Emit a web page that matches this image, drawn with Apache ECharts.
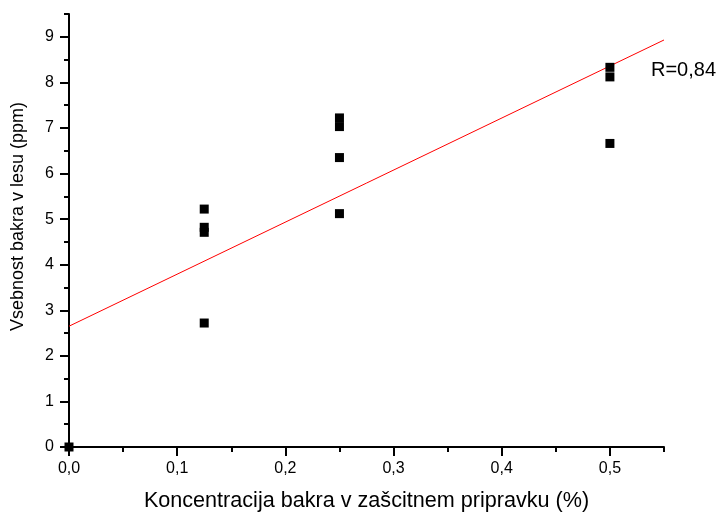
<!DOCTYPE html>
<html>
<head>
<meta charset="utf-8">
<script src="https://cdn.jsdelivr.net/npm/echarts@6/dist/echarts.min.js"></script>
<style>
  html, body { margin: 0; padding: 0; background: #fff; }
  #chart { width: 720px; height: 517px; }
</style>
</head>
<body>
<div id="chart"></div>
<script>
// Copper content measured in wood vs. copper concentration of the protective agent
const concentration = [0, 0.125, 0.125, 0.125, 0.125, 0.25, 0.25, 0.25, 0.25, 0.5, 0.5, 0.5];
const copperContent = [0, 5.22, 4.82, 4.71, 2.72, 7.22, 7.03, 6.35, 5.12, 8.33, 8.12, 6.66];

// Linear fit drawn across the axis range
const fitX = [0, 0.55];
const fitY = [2.65, 8.93];
const fitLabel = 'R=0,84';

// Axis ticks
const xMajorTicks = [0, 0.1, 0.2, 0.3, 0.4, 0.5];
const xMinorTicks = [0.05, 0.15, 0.25, 0.35, 0.45, 0.55];
const yMajorTicks = [0, 1, 2, 3, 4, 5, 6, 7, 8, 9];
const yMinorTicks = [0.5, 1.5, 2.5, 3.5, 4.5, 5.5, 6.5, 7.5, 8.5, 9.5];

const xTitle = 'Koncentracija bakra v zašcitnem pripravku (%)';
const yTitle = 'Vsebnost bakra v lesu (ppm)';

const font = 'Liberation Sans, Arial, sans-serif';
const ink = '#000';

const points = concentration.map((x, i) => [x, copperContent[i]]);
const fitLine = fitX.map((x, i) => [x, fitY[i]]);

const chart = echarts.init(document.getElementById('chart'), null, { renderer: 'canvas' });

const axisLine = { show: true, onZero: false, lineStyle: { color: ink, width: 2 } };

chart.setOption({
  animation: false,
  backgroundColor: '#fff',
  grid: { left: 69, width: 595, top: 14, height: 437, containLabel: false },
  xAxis: [
    {
      type: 'value', min: 0, max: 0.55,
      axisLine: axisLine, splitLine: { show: false },
      name: xTitle, nameLocation: 'middle', nameGap: 43,
      nameTextStyle: { color: ink, fontFamily: font, fontSize: 21.6 },
      axisTick: { show: true, inside: false, length: 9, customValues: xMajorTicks,
        lineStyle: { color: ink, width: 2 } },
      axisLabel: { show: true, customValues: xMajorTicks, margin: 14,
        color: ink, fontFamily: font, fontSize: 16,
        formatter: v => v.toFixed(1).replace('.', ',') }
    },
    {
      type: 'value', min: 0, max: 0.55, position: 'bottom',
      axisLine: { show: false }, splitLine: { show: false },
      axisLabel: { show: false },
      axisTick: { show: true, length: 5, customValues: xMinorTicks,
        lineStyle: { color: ink, width: 2 } }
    }
  ],
  yAxis: [
    {
      type: 'value', min: 0, max: 9.5,
      axisLine: axisLine, splitLine: { show: false },
      name: yTitle, nameLocation: 'middle', nameGap: 42, nameRotate: 90,
      nameTextStyle: { color: ink, fontFamily: font, fontSize: 18, padding: [0, 0, 0, 28] },
      axisTick: { show: true, inside: false, length: 9, customValues: yMajorTicks,
        lineStyle: { color: ink, width: 2 } },
      axisLabel: { show: true, customValues: yMajorTicks, margin: 15,
        color: ink, fontFamily: font, fontSize: 16 }
    },
    {
      type: 'value', min: 0, max: 9.5, position: 'left',
      axisLine: { show: false }, splitLine: { show: false },
      axisLabel: { show: false },
      axisTick: { show: true, length: 5, customValues: yMinorTicks,
        lineStyle: { color: ink, width: 2 } }
    }
  ],
  series: [
    {
      type: 'line',
      data: fitLine,
      xAxisIndex: 0, yAxisIndex: 0,
      showSymbol: false, symbol: 'none',
      lineStyle: { color: '#ff0000', width: 1 },
      z: 3
    },
    {
      type: 'scatter',
      data: points,
      xAxisIndex: 0, yAxisIndex: 0,
      symbol: 'rect', symbolSize: 9,
      itemStyle: { color: ink, opacity: 1 },
      clip: false,
      z: 4
    }
  ],
  graphic: [
    {
      type: 'text',
      left: 651, top: 60,
      style: { text: fitLabel, fill: ink, font: '20px ' + font }
    }
  ]
});
</script>
</body>
</html>
